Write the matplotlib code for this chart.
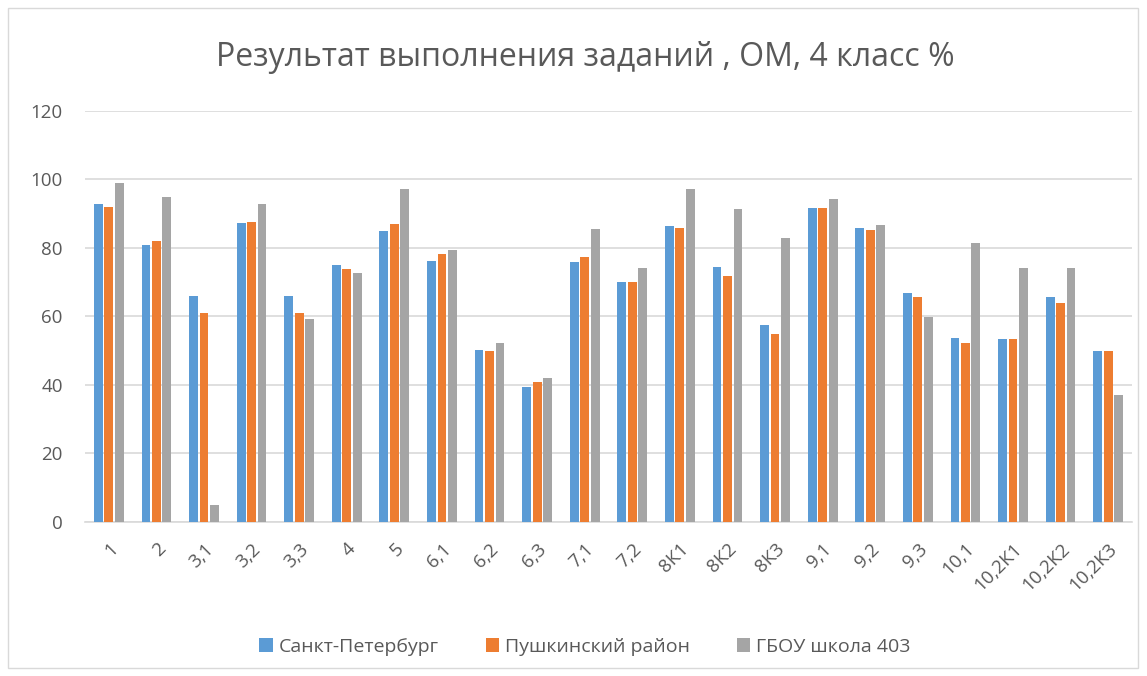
import matplotlib
matplotlib.use("Agg")
import matplotlib.pyplot as plt
from matplotlib.patches import Rectangle
import numpy as np

categories = ["1", "2", "3,1", "3,2", "3,3", "4", "5", "6,1", "6,2", "6,3", "7,1", "7,2",
              "8К1", "8К2", "8К3", "9,1", "9,2", "9,3", "10,1", "10,2К1", "10,2К2", "10,2К3"]
spb = [92.8, 80.8, 65.8, 87.4, 65.8, 75.0, 84.8, 76.1, 50.1, 39.3, 75.9, 69.9,
       86.3, 74.4, 57.4, 91.8, 85.7, 66.9, 53.6, 53.3, 65.7, 49.9]
push = [91.9, 81.9, 60.9, 87.5, 60.9, 73.8, 87.0, 78.2, 50.0, 40.7, 77.3, 69.9,
        85.8, 71.9, 54.7, 91.7, 85.3, 65.7, 52.3, 53.5, 63.9, 49.9]
school = [98.9, 94.9, 4.9, 92.8, 59.1, 72.8, 97.1, 79.3, 52.3, 42.0, 85.6, 74.1,
          97.1, 91.4, 82.8, 94.4, 86.6, 59.9, 81.4, 74.1, 74.1, 36.9]
series_names = ["Санкт-Петербург", "Пушкинский район", "ГБОУ школа 403"]
colors = ["#5B9BD5", "#ED7D31", "#A5A5A5"]
yticks = [0, 20, 40, 60, 80, 100, 120]

plt.rcParams['font.family'] = ['Open Sans', 'DejaVu Sans']

fig = plt.figure(figsize=(11.47, 6.76), dpi=100)
fig.patches.append(Rectangle((8/1147, 8/676), 1130/1147, 660/676, transform=fig.transFigure,
                             fill=False, edgecolor="#D9D9D9", linewidth=1))
ax = fig.add_axes([85/1147, 1 - 521.7/676, (1132 - 85)/1147, (521.7 - 111)/676])

x = np.arange(len(categories))
pitch = 0.22
width = 0.185
for i, (vals, name, c) in enumerate(zip([spb, push, school], series_names, colors)):
    ax.bar(x + (i - 1) * pitch, vals, width=width, color=c, label=name, zorder=3)

ax.set_xlim(-0.5, len(categories) - 0.5)
ax.set_ylim(0, 120)
ax.set_yticks(yticks)
ax.yaxis.grid(True, color="#D9D9D9", linewidth=1.2, zorder=0)
ax.set_axisbelow(True)
for s in ["top", "right", "left"]:
    ax.spines[s].set_visible(False)
ax.spines["bottom"].set_color("#D9D9D9")
ax.spines["bottom"].set_linewidth(1.2)
ax.tick_params(axis="both", length=0, labelcolor="#595959", labelsize=13.5)
ax.tick_params(axis="y", pad=16)
ax.set_xticks(x)
ax.set_xticklabels(categories, rotation=45, ha="right", va="top", rotation_mode="anchor")
ax.tick_params(axis="x", pad=13)

fig.text(585/1147, 1 - 58/676, "Результат выполнения заданий , ОМ, 4 класс %",
         ha="center", va="center", fontsize=23, color="#595959")

leg = fig.legend(loc="center", bbox_to_anchor=(585/1147, 1 - 647/676), ncol=3, frameon=False,
                 fontsize=14, handlelength=0.7, handleheight=0.7, handletextpad=0.3,
                 columnspacing=2.4, labelcolor="#595959")

fig.savefig("out.png", dpi=100)
